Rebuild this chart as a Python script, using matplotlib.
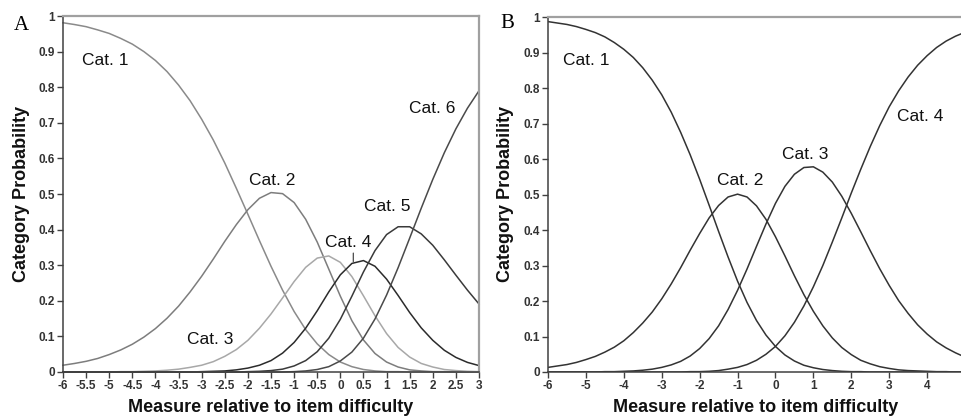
import numpy as np
import matplotlib
matplotlib.use('Agg')
import matplotlib.pyplot as plt

# ---------------- data ----------------
# Panel A: measure grid and six category probability curves
measure_A = np.arange(-6, 3.001, 0.25)
A_cat1 = [0.981, 0.976, 0.970, 0.961, 0.951, 0.937, 0.921, 0.900, 0.875, 0.844, 0.806, 0.762, 0.710,
          0.652, 0.587, 0.516, 0.443, 0.369, 0.297, 0.230, 0.170, 0.119, 0.079, 0.049, 0.028, 0.015,
          0.007, 0.003, 0.001, 0.001, 0.000, 0.000, 0.000, 0.000, 0.000, 0.000, 0.000]
A_cat2 = [0.019, 0.024, 0.030, 0.038, 0.049, 0.062, 0.078, 0.098, 0.122, 0.151, 0.185, 0.225, 0.269,
          0.317, 0.367, 0.414, 0.456, 0.488, 0.504, 0.501, 0.476, 0.429, 0.365, 0.289, 0.213, 0.144,
          0.090, 0.052, 0.028, 0.014, 0.006, 0.003, 0.001, 0.001, 0.000, 0.000, 0.000]
A_cat3 = [0.000, 0.000, 0.000, 0.000, 0.000, 0.001, 0.001, 0.002, 0.003, 0.005, 0.008, 0.013, 0.019,
          0.029, 0.044, 0.063, 0.089, 0.123, 0.163, 0.208, 0.254, 0.294, 0.320, 0.326, 0.308, 0.268,
          0.214, 0.158, 0.108, 0.069, 0.042, 0.024, 0.014, 0.007, 0.004, 0.002, 0.001]
A_cat4 = [0.000, 0.000, 0.000, 0.000, 0.000, 0.000, 0.000, 0.000, 0.000, 0.000, 0.000, 0.000, 0.001,
          0.002, 0.003, 0.006, 0.011, 0.019, 0.032, 0.053, 0.083, 0.123, 0.172, 0.225, 0.273, 0.305,
          0.313, 0.297, 0.261, 0.215, 0.167, 0.124, 0.089, 0.061, 0.041, 0.027, 0.018]
A_cat5 = [0.000, 0.000, 0.000, 0.000, 0.000, 0.000, 0.000, 0.000, 0.000, 0.000, 0.000, 0.000, 0.000,
          0.000, 0.000, 0.000, 0.001, 0.002, 0.004, 0.008, 0.017, 0.032, 0.057, 0.095, 0.148, 0.213,
          0.281, 0.341, 0.386, 0.408, 0.408, 0.388, 0.356, 0.315, 0.272, 0.230, 0.191]
A_cat6 = [0.000, 0.000, 0.000, 0.000, 0.000, 0.000, 0.000, 0.000, 0.000, 0.000, 0.000, 0.000, 0.000,
          0.000, 0.000, 0.000, 0.000, 0.000, 0.000, 0.000, 0.001, 0.003, 0.007, 0.015, 0.031, 0.056,
          0.095, 0.149, 0.216, 0.293, 0.376, 0.460, 0.541, 0.616, 0.683, 0.741, 0.790]

# Panel B: measure grid and four category probability curves
measure_B = np.arange(-6, 5.001, 0.25)
B_cat1 = [0.987, 0.983, 0.979, 0.973, 0.965, 0.956, 0.944, 0.928, 0.909, 0.886, 0.857, 0.822, 0.781,
          0.732, 0.675, 0.612, 0.543, 0.470, 0.396, 0.324, 0.256, 0.196, 0.145, 0.104, 0.072, 0.048,
          0.031, 0.019, 0.012, 0.007, 0.004, 0.002, 0.001, 0.001, 0.000, 0.000, 0.000, 0.000, 0.000,
          0.000, 0.000, 0.000, 0.000, 0.000, 0.000]
B_cat2 = [0.013, 0.017, 0.021, 0.027, 0.035, 0.044, 0.056, 0.070, 0.088, 0.111, 0.138, 0.169, 0.206,
          0.248, 0.294, 0.343, 0.390, 0.434, 0.469, 0.493, 0.501, 0.493, 0.468, 0.430, 0.381, 0.327,
          0.271, 0.218, 0.171, 0.130, 0.096, 0.069, 0.049, 0.033, 0.023, 0.015, 0.010, 0.006, 0.004,
          0.003, 0.002, 0.001, 0.001, 0.000, 0.000]
B_cat3 = [0.000, 0.000, 0.000, 0.000, 0.000, 0.000, 0.001, 0.001, 0.002, 0.003, 0.005, 0.008, 0.013,
          0.020, 0.030, 0.045, 0.066, 0.094, 0.130, 0.176, 0.230, 0.290, 0.354, 0.417, 0.475, 0.523,
          0.557, 0.576, 0.578, 0.563, 0.535, 0.495, 0.447, 0.395, 0.342, 0.291, 0.244, 0.201, 0.165,
          0.133, 0.107, 0.085, 0.068, 0.054, 0.042]
B_cat4 = [0.000, 0.000, 0.000, 0.000, 0.000, 0.000, 0.000, 0.000, 0.000, 0.000, 0.000, 0.000, 0.000,
          0.000, 0.000, 0.001, 0.001, 0.002, 0.004, 0.008, 0.013, 0.021, 0.033, 0.050, 0.072, 0.102,
          0.140, 0.186, 0.240, 0.300, 0.366, 0.434, 0.504, 0.571, 0.635, 0.694, 0.747, 0.792, 0.831,
          0.864, 0.891, 0.914, 0.932, 0.946, 0.957]

x_ticks_A = [-6, -5.5, -5, -4.5, -4, -3.5, -3, -2.5, -2, -1.5, -1, -0.5, 0, 0.5, 1, 1.5, 2, 2.5, 3]
x_ticks_B = [-6, -5, -4, -3, -2, -1, 0, 1, 2, 3, 4, 5]
y_ticks = [0, 0.1, 0.2, 0.3, 0.4, 0.5, 0.6, 0.7, 0.8, 0.9, 1]
y_tick_labels = ['0', '0.1', '0.2', '0.3', '0.4', '0.5', '0.6', '0.7', '0.8', '0.9', '1']

# category label positions (data coords)
labels_A = [('Cat. 1', -5.09, 0.876), ('Cat. 2', -1.48, 0.539), ('Cat. 3', -2.82, 0.090),
            ('Cat. 5', 1.02, 0.464), ('Cat. 6', 1.98, 0.740)]
labels_B = [('Cat. 1', -4.98, 0.878), ('Cat. 2', -0.92, 0.539), ('Cat. 3', 0.78, 0.614),
            ('Cat. 4', 3.81, 0.719)]

# ---------------- drawing ----------------
plt.rcParams['font.family'] = ['Liberation Sans', 'DejaVu Sans']
fig = plt.figure(figsize=(9.62, 4.16), dpi=100)
axA = fig.add_axes([63/962, 44/416, 416/962, 356/416])
axB = fig.add_axes([548/962, 44/416, 417/962, 355/416])

colsA = ['#8a8a8a', '#7d7d7d', '#a8a8a8', '#2b2b2b', '#3a3a3a', '#4a4a4a']
for s, c in zip((A_cat1, A_cat2, A_cat3, A_cat4, A_cat5, A_cat6), colsA):
    axA.plot(measure_A, s, color=c, lw=1.1, clip_on=False)
for s in (B_cat1, B_cat2, B_cat3, B_cat4):
    axB.plot(measure_B, s, color='#333333', lw=1.1)

for ax, xt in ((axA, x_ticks_A), (axB, x_ticks_B)):
    ax.set_xlim(xt[0], xt[-1])
    ax.set_ylim(0, 1)
    ax.set_xticks(xt)
    ax.set_xticklabels(['%g' % v for v in xt])
    ax.set_yticks(y_ticks)
    ax.set_yticklabels(y_tick_labels)
    ax.tick_params(direction='out', length=4, width=1, color='#404040', labelsize=8.5,
                   labelcolor='#333333', pad=2)
    for lab in ax.get_xticklabels() + ax.get_yticklabels():
        lab.set_fontweight('bold')
    ax.spines['top'].set_color('#a0a0a0'); ax.spines['top'].set_linewidth(1.6)
    ax.spines['right'].set_color('#a0a0a0'); ax.spines['right'].set_linewidth(1.6)
    ax.spines['left'].set_color('#404040'); ax.spines['left'].set_linewidth(1.1)
    ax.spines['bottom'].set_color('#404040'); ax.spines['bottom'].set_linewidth(1.1)

for xc in (22, 506):
    fig.text(xc/962, 1 - 194/416, 'Category Probability', rotation=90, ha='center',
             va='center', fontsize=13, fontweight='bold', color='#111111')
for xc in (271, 756):
    fig.text(xc/962, 1 - 408/416, 'Measure relative to item difficulty', ha='center',
             va='center', fontsize=13, fontweight='bold', color='#111111')
fig.text(21/962, 1 - 25/416, 'A', ha='center', va='center', fontsize=15,
         family=['Liberation Serif', 'DejaVu Serif'])
fig.text(507/962, 1 - 24/416, 'B', ha='center', va='center', fontsize=15,
         family=['Liberation Serif', 'DejaVu Serif'])

kw = dict(fontsize=12.5, ha='center', va='center', color='#111111')
for t, x, y in labels_A:
    axA.text(x, y, t, **kw)
axA.annotate('Cat. 4', xy=(0.28, 0.31), xytext=(0.18, 0.363), textcoords='data',
             arrowprops=dict(arrowstyle='-', color='#333333', lw=0.8, relpos=(0.6, 0.0),
                             shrinkA=0, shrinkB=0), **kw)
for t, x, y in labels_B:
    axB.text(x, y, t, **kw)

fig.savefig('out.png')
